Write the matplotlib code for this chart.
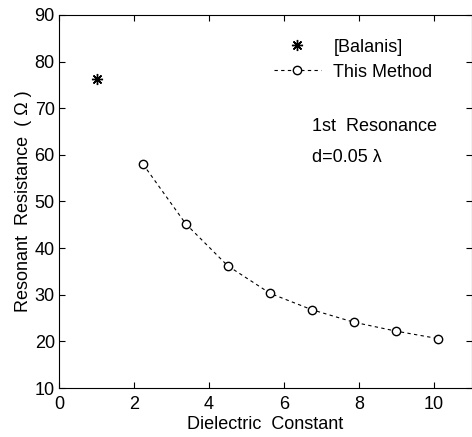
import matplotlib.pyplot as plt

plt.rcParams['font.family'] = ['Liberation Sans', 'DejaVu Sans']

# reference value
balanis_x = [1.0]
balanis_y = [76.3]

# this method
eps_r = [2.24, 3.38, 4.5, 5.63, 6.74, 7.87, 8.99, 10.11]
resistance = [58.0, 45.2, 36.2, 30.3, 26.8, 24.1, 22.2, 20.6]

fig = plt.figure(figsize=(4.72, 4.37), dpi=100)
ax = fig.add_axes([0.125, 0.112, 0.874, 0.854])

ax.plot(balanis_x, balanis_y, linestyle='none', marker=(8, 2, 0), color='black',
        markersize=8, markeredgewidth=1.0, label='[Balanis]')
ax.plot(eps_r, resistance, linestyle=(0, (3, 3)), linewidth=0.8, color='black',
        marker='o', markersize=6, markerfacecolor='white', markeredgewidth=1.0,
        label='This Method')

ax.set_xlim(0, 11)
ax.set_ylim(10, 90)
ax.set_xticks([0, 2, 4, 6, 8, 10])
ax.set_yticks([10, 20, 30, 40, 50, 60, 70, 80, 90])
ax.tick_params(direction='in', top=True, right=True, length=4, labelsize=13)
ax.tick_params(axis='x', pad=6)
ax.tick_params(axis='y', pad=3)
for s in ax.spines.values():
    s.set_linewidth(0.8)

ax.set_xlabel('Dielectric  Constant', fontsize=13, labelpad=2)
ax.set_ylabel('Resonant  Resistance  ( Ω )', fontsize=13, labelpad=2)

ax.legend(loc='upper left', bbox_to_anchor=(0.49, 0.97), frameon=False, fontsize=13,
          handlelength=2.6, handletextpad=0.7, labelspacing=0.45, borderpad=0.2)

ax.text(6.75, 66, '1st  Resonance', fontsize=13, va='center')
ax.text(6.75, 59.5, 'd=0.05 λ', fontsize=13, va='center')

fig.savefig('out.png', dpi=100)
